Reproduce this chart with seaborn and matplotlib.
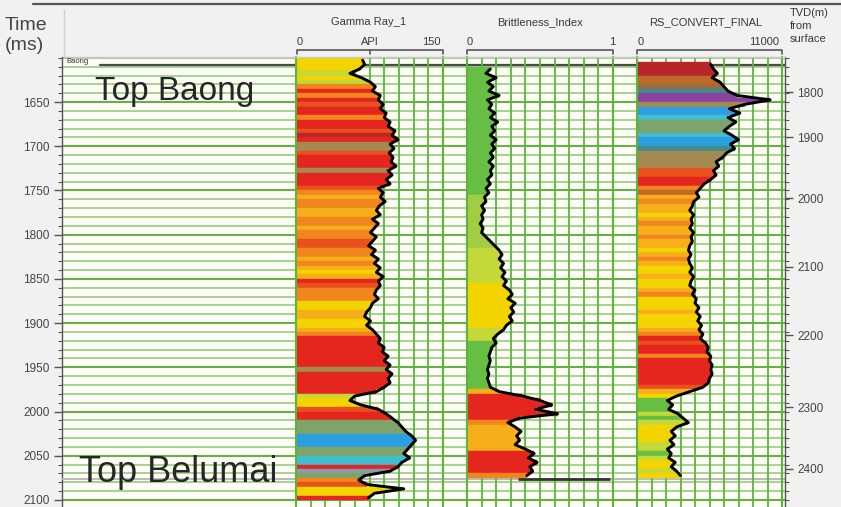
import numpy as np
import matplotlib
matplotlib.use("Agg")
import matplotlib.pyplot as plt
from matplotlib.lines import Line2D
from matplotlib.ticker import MultipleLocator
import seaborn as sns

sns.set_theme(style="white")
plt.rcParams["font.family"] = ["Liberation Sans", "DejaVu Sans"]

# ---------------------------------------------------------------- data
# two-way time of each log sample (ms), 5 ms sampling
time_ms = np.arange(1602.5, 2100.0, 5.0)

gamma_api = [
    68, 70, 65, 55, 67, 76,
    81, 78, 86, 84,
    89, 86, 92, 90,
    96, 94, 101, 98,
    104, 96, 100, 95, 99,
    97, 102, 94, 98, 92, 96,
    84, 89, 86, 91, 85,
    82, 86, 78, 84, 80, 76, 82,
    78, 74, 81, 77, 84, 80,
    86, 82, 89,
    84, 86, 82, 80, 84, 78, 76, 72, 70, 76, 72,
    78, 82, 86, 84, 90, 88, 94, 90, 96, 92, 98, 94, 96, 90, 82,
    60, 55, 66, 84, 92, 98,
    104, 108, 112, 118, 122, 118, 114, 110, 116,
    108, 104, 96, 70, 64, 72, 110, 80, 74,
]
gamma_facies = ("Y"
                "YYLYLORORV" "RRORRVDRKK" "VRRRKRRRVO" "AOOAAOOAOO"
                "VVOOAOAYAR" "VOOOYYAAYY" "AORRRRRRRK" "RRRRRLYYVR"
                "RMMMBBBMMC" "CRSMOVYYR")

nan = float("nan")
brittleness = [
    nan, nan,
    0.16, 0.13, 0.20, 0.14, 0.18, 0.15, 0.22, 0.14, 0.17,
    0.15, 0.19, 0.16, 0.21, 0.17, 0.19, 0.16, 0.20, 0.17, 0.19,
    0.16, 0.18, 0.15, 0.18, 0.16, 0.17, 0.14, 0.16, 0.13, 0.15,
    0.12, 0.13, 0.10, 0.12, 0.10, 0.11, 0.09, 0.11, 0.10, 0.13,
    0.16, 0.19, 0.22, 0.24, 0.22, 0.25, 0.23, 0.26, 0.24, 0.27,
    0.25, 0.29, 0.31, 0.28, 0.33, 0.30, 0.32, 0.29, 0.31, 0.27,
    0.25, 0.21, 0.18, 0.20, 0.17, 0.16, 0.15, 0.16, 0.15, 0.14,
    0.15, 0.14, 0.15, 0.16, 0.22, 0.38, 0.50, 0.58, 0.47, 0.62,
    0.36, 0.28, 0.33, 0.37, 0.34, 0.36, 0.33, 0.40, 0.46, 0.42,
    0.48, 0.43, 0.45, 0.41,
    nan, nan, nan, nan, nan,
]
brittle_facies = ("--"
                  + "G" * 29 + "H" * 12 + "L" * 8 + "Y" * 10 + "L" * 3
                  + "G" * 11 + "A" + "R" * 6 + "O" + "A" * 6 + "R" * 5 + "O"
                  + "-" * 5)

rs_convert = [
    nan,
    5600, 5800, 6100, 5700, 6300, 6600, 6900, 7600, 10100, 8200,
    7000, 7800, 6900, 7500, 7000, 6600, 7200, 7700, 7100, 7400,
    6800, 6500, 6000, 6200, 5800, 6000, 5600, 5100, 4800, 4500,
    4700, 4300, 4200, 4000, 4300, 4100, 4200, 4000, 4300, 4100,
    4200, 4000, 3900, 4100, 3900, 4000, 4200, 4000, 4300, 4100,
    4000, 4400, 4200, 4500, 4400, 4700, 4500, 4800, 4600, 4900,
    4700, 5000, 4800, 5200, 5400, 5300, 5600, 5500, 5700, 5600,
    5700, 5500, 5400, 5000, 4000, 3000, 2300, 2700, 2400, 3100,
    3500, 3900, 3000, 2600, 2900, 2500, 2800, 2300, 2600, 2400,
    2900, 2600, 3000, 3300,
    nan, nan, nan, nan, nan,
]
rs_facies = ("-"
             "DDDNNWTPPK" "BBCMMMCBBT" "KKKKVVRRON" "AOAAYAOAAO"
             "AAYAOAYYAY" "YAOYYYAYYY" "AORVRRORRR" "RRRVAYGGGL"
             "GLYYYYLLGL" "YYLY-----")

facies_colors = {
    "Y": "#f3d400", "L": "#c4d83a", "H": "#a2cc44", "G": "#66be44",
    "O": "#f2861e", "A": "#f6ae1a", "R": "#e4261e", "V": "#e8501e",
    "D": "#b8262a", "K": "#a48a50", "N": "#c0682a", "W": "#9c6c3c",
    "M": "#7ea46a", "B": "#2c9ee2", "C": "#40bed0", "T": "#3e8c8c",
    "P": "#8a44a0", "S": "#8a9ab0",
}

time_ticks = [1650, 1700, 1750, 1800, 1850, 1900, 1950, 2000, 2050, 2100]
# time-depth pairs for the TVD scale
tvd_labels = [1800, 1900, 2000, 2100, 2200, 2300, 2400]
tvd_times = [1639.0, 1690.0, 1758.5, 1836.5, 1913.5, 1995.0, 2065.0]

baong_top = 1608.0
belumai_top = 2076.0

# ---------------------------------------------------------------- layout
W, H = 841, 507
fig = plt.figure(figsize=(W / 100, H / 100), dpi=100, facecolor="#f1f1f1")


def frame(x0, x1, y0, y1):
    return [x0 / W, 1 - y1 / H, (x1 - x0) / W, (y1 - y0) / H]


t_top, t_bot = 1599.0, 2108.0
green = "#5cb43c"
light_green = "#8cc874"
ink = "#3a3a3a"

# background: time axis, horizontal grid, well tops
bg = fig.add_axes(frame(62, 785, 57, 507))
bg.set_facecolor("#fdfdf6")
bg.set_xlim(0, 1)
bg.set_ylim(t_bot, t_top)
bg.set_xticks([])
bg.set_yticks(time_ticks)
bg.set_yticklabels([str(v) for v in time_ticks])
bg.yaxis.set_minor_locator(MultipleLocator(10))
bg.grid(False)
bg.grid(which="minor", axis="y", color=light_green, lw=1.1)
bg.grid(which="major", axis="y", color=green, lw=1.4)
bg.tick_params(axis="y", which="major", direction="out", length=6, width=1,
               color="#555555", labelsize=8.5, labelcolor="#444444", pad=3,
               left=True)
bg.tick_params(axis="y", which="minor", direction="out", length=3, width=0.8,
               color="#555555", left=True)
for side in ["top", "bottom", "right"]:
    bg.spines[side].set_visible(False)
bg.spines["left"].set_color("#555555")
bg.spines["left"].set_linewidth(1.0)
bg.axhline(baong_top, xmin=0.053, xmax=1, color="#4a4a4a", lw=1.6, zorder=3)
bg.axhline(belumai_top, color="#b4b4b4", lw=1.3, zorder=3)

# TVD scale on the right
tvd = bg.twinx()
tvd.set_ylim(t_bot, t_top)
tvd.set_yticks(tvd_times)
tvd.set_yticklabels([str(v) for v in tvd_labels])
tvd.yaxis.set_minor_locator(MultipleLocator(10))
tvd.tick_params(axis="y", which="major", direction="out", length=6, width=1,
                color="#555555", labelsize=8.5, labelcolor="#444444", pad=3,
                right=True)
tvd.tick_params(axis="y", which="minor", direction="out", length=3, width=0.8,
                color="#555555", right=True)
for side in ["top", "bottom", "left"]:
    tvd.spines[side].set_visible(False)
tvd.spines["right"].set_color("#555555")
tvd.spines["right"].set_linewidth(1.0)
tvd.grid(False)


def log_track(x0, x1, values, facies, xmax):
    ax = fig.add_axes(frame(x0, x1, 57, 507))
    ax.set_facecolor("none")
    vals = np.asarray(values, dtype=float)
    keep = ~np.isnan(vals)
    cols = [facies_colors[c] for c, k in zip(facies, keep) if k]
    ax.set_axisbelow(True)
    ax.barh(time_ms[keep], vals[keep], height=5.0, left=0, color=cols,
            edgecolor=cols, linewidth=0.3, zorder=2)
    sns.lineplot(x=vals[keep], y=time_ms[keep], orient="y", sort=False,
                 estimator=None, color="black", lw=2.1, ax=ax, zorder=3)
    ax.set_xlim(0, xmax)
    ax.set_ylim(t_bot, t_top)
    ax.set_xticks(np.linspace(0, xmax, 11))
    ax.grid(False)
    ax.grid(axis="x", color=green, lw=1.3)
    ax.tick_params(left=False, bottom=False, labelleft=False,
                   labelbottom=False)
    ax.set_xlabel("")
    ax.set_ylabel("")
    for side in ["top", "bottom"]:
        ax.spines[side].set_visible(False)
    for side in ["left", "right"]:
        ax.spines[side].set_color(green)
        ax.spines[side].set_linewidth(1.5)
    return ax


ax_g = log_track(296, 443, gamma_api, gamma_facies, 150)
ax_b = log_track(467, 613, brittleness, brittle_facies, 1.0)
ax_r = log_track(637, 782, rs_convert, rs_facies, 11000)
ax_b.hlines(belumai_top, 0.35, 0.98, color="#333333", lw=2.0, zorder=4)

# ---------------------------------------------------------------- header


def px_text(x, y, s, **kw):
    fig.text(x / W, 1 - y / H, s, **kw)


def scale_bar(x0, x1, y, mid=None):
    xs = [x0, x0, x1, x1]
    ys = [y + 4, y, y, y + 4]
    fig.add_artist(Line2D([v / W for v in xs], [1 - v / H for v in ys],
                          color="#555555", lw=1.2))
    if mid is not None:
        fig.add_artist(Line2D([mid / W, mid / W], [1 - y / H, 1 - (y + 4) / H],
                              color="#555555", lw=1.2))


fig.add_artist(Line2D([33 / W, 1], [1 - 4 / H, 1 - 4 / H], color="#555555",
                      lw=1.6))
fig.add_artist(Line2D([64 / W, 64 / W], [1 - 10 / H, 1 - 57 / H],
                      color="#d0d0d0", lw=1.0))
fig.add_artist(Line2D([64 / W, 785 / W], [1 - 57 / H, 1 - 57 / H],
                      color="#c8c8c8", lw=1.0))

px_text(5, 30, "Time", fontsize=14, color="#444444", va="baseline")
px_text(5, 50, "(ms)", fontsize=14, color="#444444", va="baseline")

head_kw = dict(fontsize=8, color=ink, va="baseline")
px_text(369, 25, "Gamma Ray_1", ha="center", **head_kw)
px_text(300, 45, "0", ha="center", **head_kw)
px_text(370, 45, "API", ha="center", **head_kw)
px_text(431, 45, "150", ha="center", **head_kw)
scale_bar(297, 443, 50, mid=370)

px_text(540, 25, "Brittleness_Index", ha="center", **head_kw)
px_text(470, 45, "0", ha="center", **head_kw)
px_text(612, 45, "1", ha="center", **head_kw)
scale_bar(467, 613, 50)

px_text(706, 25, "RS_CONVERT_FINAL", ha="center", **head_kw)
px_text(641, 45, "0", ha="center", **head_kw)
px_text(779, 45, "11000", ha="right", **head_kw)
scale_bar(637, 782, 50)

tvd_kw = dict(fontsize=8, color=ink, va="baseline", ha="left")
px_text(790, 16, "TVD(m)", **tvd_kw)
px_text(790, 29, "from", **tvd_kw)
px_text(790, 42, "surface", **tvd_kw)

# well-top annotations
px_text(66, 63, "Baong", fontsize=5.5, color="#333333", va="baseline")
px_text(95, 100, "Top Baong", fontsize=24, color="#262626", va="baseline")
px_text(79, 482, "Top Belumai", fontsize=26, color="#262626", va="baseline")

fig.savefig("out.png", dpi=100, facecolor=fig.get_facecolor())
